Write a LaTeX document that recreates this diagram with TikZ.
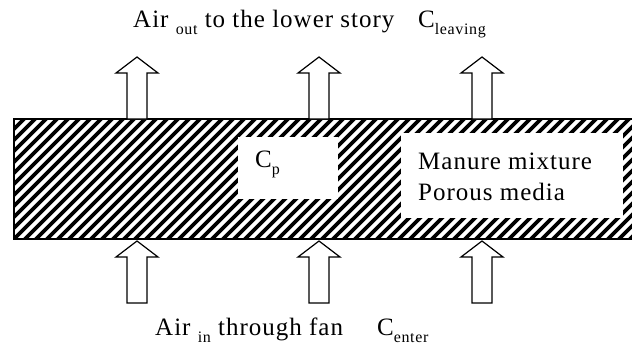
\documentclass[tikz,border=0pt]{standalone}
\usepackage{fontspec}
\setmainfont{Liberation Serif}[LetterSpace=4]
\newcommand{\lowsub}[1]{\raisebox{-7pt}{\fontsize{16}{16}\selectfont #1}}
\begin{document}
\begin{tikzpicture}[x=1pt,y=-1pt,
  txt/.style={anchor=base west, inner sep=0pt, font=\fontsize{25}{25}\selectfont},
  flowarrow/.pic={\draw[line width=1.2pt, fill=white, line join=miter]
     (-10,62) -- (-10,16) -- (-21,16) -- (0,0) -- (21,16) -- (10,16) -- (10,62) -- cycle;},
  hatch/.style={line width=3.6pt}]
\useasboundingbox (0,0) rectangle (632,346);
% hatched slab
\begin{scope}
  \clip (14,119) rectangle (645,239);
  \foreach \c in {-100,-89,...,900} \draw[hatch] (\c,100) -- (\c-160,260);
\end{scope}
\fill[white] (238,137) rectangle (338,199);
\fill[white] (401,133) rectangle (623,218);
\draw[line width=1.3pt] (14,119) rectangle (645,239);
% arrows
\foreach \x in {137,319,482} {
  \pic at (\x,57) {flowarrow};
  \pic at (\x,241) {flowarrow};
}
% texts
\node[txt] (outtext) at (133,27) {Air \lowsub{out} to the lower story};
\node[txt] (cleave) at (418,27) {C\lowsub{leaving}};
\node[txt] (intext) at (155,335) {Air \lowsub{in} through fan};
\node[txt] (center) at (377,335) {C\lowsub{enter}};
\node[txt] (cp) at (255,167) {C\lowsub{p}};
\node[txt] (manure) at (418,169) {Manure mixture};
\node[txt] (porous) at (418,200) {Porous media};
\end{tikzpicture}
\end{document}
